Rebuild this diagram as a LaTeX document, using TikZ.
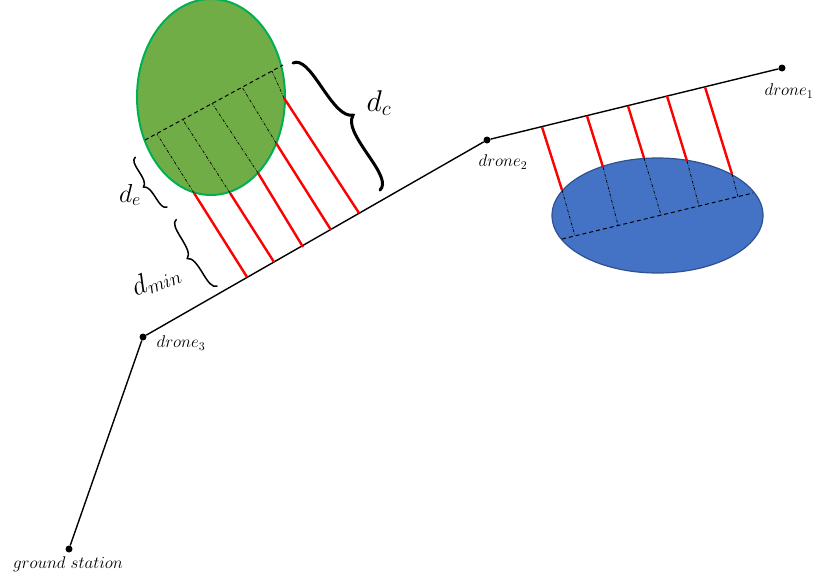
\RequirePackage{fix-cm}
\documentclass[tikz,border=0pt]{standalone}
\usepackage{xcolor}
\usepackage{amsmath}
\usepackage{tikz}

\definecolor{leafgreen}{RGB}{112,173,71}
\definecolor{leafedge}{RGB}{0,176,80}
\definecolor{seablue}{RGB}{68,114,196}
\definecolor{seaedge}{RGB}{47,82,143}

\tikzset{
  drone/.style={circle,fill=black,inner sep=0pt,minimum size=7pt},
  lbl/.style={draw=none,font=\fontsize{17}{19}\selectfont},
  biglbl/.style={draw=none,font=\fontsize{#1}{#1}\selectfont},
  link/.style={line width=1.4pt},
  beam/.style={red,line width=2.4pt},
  hidden/.style={line width=0.7pt,dash pattern=on 3pt off 1.5pt on 0.8pt off 1.5pt},
  axisline/.style={line width=1pt,dash pattern=on 4pt off 3pt},
}

% curly brace of length #1 and height #2, drawn along the local x axis
\newcommand\curlybrace[2]{%
  (0,0) .. controls (0.01*#1,0.45*#2) and (0.1*#1,0.5*#2) .. (0.22*#1,0.5*#2)
  .. controls (0.38*#1,0.5*#2) and (0.47*#1,0.55*#2) .. (0.5*#1,#2)
  .. controls (0.53*#1,0.55*#2) and (0.62*#1,0.5*#2) .. (0.78*#1,0.5*#2)
  .. controls (0.9*#1,0.5*#2) and (0.99*#1,0.45*#2) .. (#1,0)}

\begin{document}
\begin{tikzpicture}[x=1pt,y=-1pt]
             \useasboundingbox (0,0) rectangle (816,584);

             % relay chain
             \node[drone] (gs) at (69,549) {};
             \node[drone] (d3) at (143,337) {};
             \node[drone] (d2) at (487,140) {};
             \node[drone] (d1) at (782,68) {};
             \draw[link] (gs) -- (d3) -- (d2) -- (d1);

             \node[lbl] (gslbl) at (68,564) {$ground\ station$};
             \node[lbl] (d3lbl) at (181,343) {$drone_3$};
             \node[lbl] (d2lbl) at (503,162) {$drone_2$};
             \node[lbl] (d1lbl) at (789,91) {$drone_1$};

             % obstacles
             \draw[leafedge,fill=leafgreen,line width=2pt] (211,97) ellipse [x radius=74pt, y radius=98pt];
             \draw[seaedge,fill=seablue,line width=1.2pt] (657.5,215.5) ellipse [x radius=105.5pt, y radius=57.5pt];

             % distances to the green obstacle
             \foreach \ax/\ay/\bx/\by/\cx/\cy in {247/277/194/193/157/134, 274/262/230/193/183/120,
                      303/247/258/173/212/103, 331/230/276/143/242/87, 359/213/284/98/272/71}
             {
               \draw[beam] (\ax,\ay) -- (\bx,\by);
               \draw[hidden] (\bx,\by) -- (\cx,\cy);
             }
             \draw[axisline] (145,140) -- (283,65);

             % distances to the blue obstacle
             \foreach \ax/\ay/\bx/\by/\cx/\cy in {542/127/562/190/575/236, 587/116/603/167/618/225,
                      628/106/644/158/661/215, 667/96/687/161/699/206, 705/87/732/174/738/197}
             {
               \draw[beam] (\ax,\ay) -- (\bx,\by);
               \draw[hidden] (\bx,\by) -- (\cx,\cy);
             }
             \draw[axisline] (562,239) -- (753,193);

             % braces
             \draw[shift={(293,63)},x=1pt,y=1pt,rotate=-55.6,line width=3pt,line cap=round] \curlybrace{154}{20};
             \node[biglbl=30] (dc) at (379,103) {$d_c$};
             \draw[shift={(167,207)},x=1pt,y=1pt,rotate=122.6,line width=1.5pt,line cap=round] \curlybrace{59}{9};
             \node[biglbl=26] (de) at (130,195) {$d_e$};
             \draw[shift={(217,286)},x=1pt,y=1pt,rotate=121.5,line width=1.5pt,line cap=round] \curlybrace{78}{11};
             \node[biglbl=28,rotate=22] (dmin) at (156,280) {$d_{min}$};
             \end{tikzpicture}
\end{document}
